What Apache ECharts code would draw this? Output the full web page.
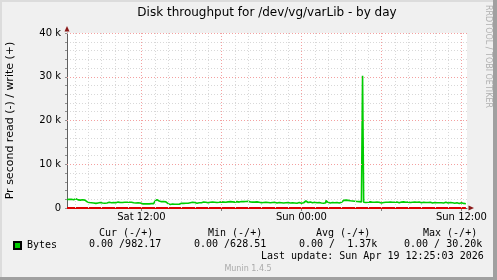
<!DOCTYPE html>
<html>
<head>
<meta charset="utf-8">
<script src="https://cdn.jsdelivr.net/npm/echarts@6/dist/echarts.min.js"></script>
<style>
html,body{margin:0;padding:0;background:#f0f0f0;}
#chart{width:497px;height:280px;}
</style>
</head>
<body>
<div id="chart"></div>
<script>
// ---- data (hours counted from Sat 00:00) ----
const startHour = 6 + 25 / 60;   // Sat 06:25
const endHour = 36 + 25 / 60;    // Sun 12:25
const xTickHours = [12, 24, 36];
const xTickLabels = ['Sat 12:00', 'Sun 00:00', 'Sun 12:00'];
const yTickValues = [0, 10000, 20000, 30000, 40000];
const yTickLabels = ['0', '10 k', '20 k', '30 k', '40 k'];

// write bytes per second, one value per 5-minute sample (12 per hour row)
const writeBytes = [
  1950, 2000, 1900, 1980, 2050, 1880, 1950, 2100, 1900, 1850, 1950, 1800,
  1850, 1900, 1750, 1800, 1600, 1450, 1300, 1250, 1150, 1200, 1100, 1150,
  1100, 1050, 1200, 1150, 1350, 1250, 1100, 1150, 1200, 1100, 1250, 1150,
  1200, 1300, 1250, 1200, 1350, 1250, 1300, 1200, 1250, 1350, 1300, 1250,
  1300, 1250, 1350, 1300, 1250, 1300, 1400, 1300, 1250, 1300, 1250, 1200,
  1200, 1150, 1250, 1200, 1100, 1150, 1000,  950,  900,  950, 1000,  950,
   900,  950,  900, 1000,  950, 1000, 1100, 1500, 1900, 1750, 1600, 1500,
  1450, 1400, 1500, 1350, 1400, 1300, 1000,  850,  800,  850,  900,  850,
   850, 628.51, 850, 900,  850,  950, 1100, 1000, 1050, 1150, 1100, 1150,
  1100, 1150, 1200, 1150, 1300, 1500, 1250, 1200, 1100, 1150, 1200, 1250,
  1200, 1300, 1350, 1250, 1300, 1400, 1200, 1350, 1300, 1250, 1350, 1300,
  1300, 1350, 1250, 1400, 1300, 1650, 1400, 1300, 1350, 1250, 1300, 1400,
  1400, 1350, 1450, 1300, 1400, 1500, 1350, 1300, 1450, 1400, 1350, 1450,
  1500, 1400, 1450, 1600, 1500, 1800, 1550, 1450, 1400, 1500, 1350, 1400,
  1350, 1300, 1400, 1250, 1300, 1350, 1200, 1300, 1250, 1350, 1300, 1250,
  1250, 1300, 1200, 1350, 1250, 1200, 1300, 1250, 1150, 1300, 1250, 1200,
  1200, 1250, 1150, 1300, 1200, 1100, 1250, 1200, 1150, 1250, 1200, 1150,
  1150, 1200, 1100, 1150, 1250, 1200, 1100, 1150, 1200, 1100, 1600, 1300,
  1250, 1300, 1350, 1250, 1200, 1350, 1300, 1250, 1200, 1300, 1250, 1200,
  1150, 1200, 1100, 1250, 1200, 1700, 1300, 1200, 1150, 1200, 1250, 1150,
  1200, 1150, 1250, 1200, 1150, 1200, 1300, 1250, 1750, 1950, 1800, 1700,
  1750, 1800, 1650, 1700, 1600, 1500, 1550, 1450, 1500, 1400, 1450, 1500,
  1400, 1450, 30200, 1300, 1250, 1350, 1300, 1200, 1400, 1250, 1300, 1350,
  1300, 1250, 1350, 1200, 1300, 1250, 1150, 1300, 1250, 1200, 1300, 1350,
  1300, 1400, 1350, 1250, 1300, 1400, 1300, 1250, 1350, 1300, 1200, 1300,
  1350, 1300, 1400, 1250, 1300, 1500, 1350, 1300, 1250, 1350, 1300, 1400,
  1350, 1400, 1300, 1250, 1350, 1300, 1200, 1250, 1300, 1200, 1250, 1300,
  1250, 1200, 1300, 1250, 1150, 1200, 1250, 1300, 1200, 1150, 1200, 1250,
  1200, 1250, 1150, 1200, 1300, 1200, 1150, 1200, 1250, 1150, 1200, 1150,
  1100, 1150, 1200, 1100, 1050, 1150, 1200, 1100, 1050, 1000, 982.17, 982.17
];
// read side is 0.00 for every sample (Cur/Min/Avg/Max all 0.00)
const readBytes = writeBytes.map(() => 0);

const statHeaders = ['Cur (-/+)', 'Min (-/+)', 'Avg (-/+)', 'Max (-/+)'];
const statValues = ['0.00 /982.17', '0.00 /628.51', '0.00 /  1.37k', '0.00 / 30.20k'];
const lastUpdate = 'Last update: Sun Apr 19 12:25:03 2026';

// ---- build ----
const sampleHours = writeBytes.map((_, i) => startHour + i * 5 / 60);
const writeData = writeBytes.map((v, i) => [sampleHours[i], v]);
const readData = readBytes.map((v, i) => [sampleHours[i], v]);

const minorX = [], majorX = [];
for (let h = Math.ceil(startHour); h <= endHour; h++) {
  (h % 6 === 0 ? majorX : minorX).push({ xAxis: h });
}
const majorY = [10000, 20000, 30000, 40000].map(v => ({ yAxis: v }));

const MONO = '10px "DejaVu Sans Mono"';
const SANS = '"DejaVu Sans"';

const chart = echarts.init(document.getElementById('chart'), null, { renderer: 'canvas' });

const headerX = [99, 208, 316, 423];
const valueX = [89, 194, 299, 404];
const graphics = [
  { type: 'rect', shape: { x: 0, y: 0, width: 497, height: 2 }, style: { fill: '#dcdcdc' }, silent: true },
  { type: 'rect', shape: { x: 0, y: 0, width: 2, height: 280 }, style: { fill: '#dcdcdc' }, silent: true },
  { type: 'rect', shape: { x: 493, y: 0, width: 4, height: 280 }, style: { fill: '#a0a0a0' }, silent: true },
  { type: 'rect', shape: { x: 0, y: 277, width: 497, height: 3 }, style: { fill: '#a0a0a0' }, silent: true },
  { type: 'text', x: 267, y: 13, style: { text: 'Disk throughput for /dev/vg/varLib - by day', font: '12px ' + SANS, fill: '#000', align: 'center', verticalAlign: 'middle' } },
  { type: 'text', x: 488, y: 5, rotation: -Math.PI / 2, style: { text: 'RRDTOOL / TOBI OETIKER', font: '8px ' + SANS, fill: '#b0b0b0', align: 'left', verticalAlign: 'middle' } },
  { type: 'polygon', shape: { points: [[67, 26], [64.5, 31.5], [69.5, 31.5]] }, style: { fill: '#8b1a1a' }, silent: true },
  { type: 'polygon', shape: { points: [[474, 208], [468.5, 205.5], [468.5, 210.5]] }, style: { fill: '#8b1a1a' }, silent: true },
  { type: 'text', x: 261, y: 256, style: { text: lastUpdate, font: MONO, fill: '#000', verticalAlign: 'middle' } },
  { type: 'text', x: 248, y: 269, style: { text: 'Munin 1.4.5', font: '8px ' + SANS, fill: '#aaaaaa', align: 'center', verticalAlign: 'middle' } }
];
statHeaders.forEach((t, i) => graphics.push({ type: 'text', x: headerX[i], y: 233, style: { text: t, font: MONO, fill: '#000', verticalAlign: 'middle' } }));
statValues.forEach((t, i) => graphics.push({ type: 'text', x: valueX[i], y: 244.5, style: { text: t, font: MONO, fill: '#000', verticalAlign: 'middle' } }));

const option = {
  animation: false,
  backgroundColor: '#f0f0f0',
  grid: {
    left: 67, right: 30, top: 33, bottom: 72, containLabel: false, outerBoundsMode: 'none',
    show: true, backgroundColor: '#ffffff', borderWidth: 0
  },
  legend: {
    data: ['Bytes'], left: 13, top: 240.5, padding: 0, icon: 'rect', itemWidth: 7, itemHeight: 7, itemGap: 6,
    textStyle: { fontFamily: 'DejaVu Sans Mono', fontSize: 10, color: '#000', padding: [0, 0, 0, 1] },
    selectedMode: false
  },
  xAxis: {
    type: 'value', min: startHour, max: endHour,
    axisLine: { show: true, lineStyle: { color: '#606060', width: 1 } },
    axisTick: { show: true, length: 3, customValues: [12, 18, 24, 30, 36], lineStyle: { color: '#808080' } },
    splitLine: { show: false },
    axisLabel: {
      customValues: xTickHours, margin: 4,
      fontFamily: 'DejaVu Sans', fontSize: 10, color: '#000',
      formatter: v => { const i = xTickHours.indexOf(Math.round(v)); return i >= 0 ? xTickLabels[i] : ''; }
    }
  },
  yAxis: {
    type: 'value', min: 0, max: 40000, interval: 2000,
    name: 'Pr second read (-) / write (+)', nameLocation: 'middle', nameRotate: 90, nameGap: 51,
    nameTextStyle: { fontFamily: 'DejaVu Sans', fontSize: 11, color: '#000' },
    axisLine: { show: true, lineStyle: { color: '#606060', width: 1 } },
    axisTick: { show: true, length: 2, lineStyle: { color: '#909090' } },
    splitLine: { show: true, lineStyle: { color: '#d8d8d8', type: [1, 2], width: 1 } },
    axisLabel: {
      margin: 6, fontFamily: 'DejaVu Sans', fontSize: 10, color: '#000',
      formatter: v => { const i = yTickValues.indexOf(v); return i >= 0 ? yTickLabels[i] : ''; }
    }
  },
  series: [
    {
      name: 'grid', type: 'line', data: [], z: 1, silent: true,
      markLine: {
        silent: true, symbol: 'none', label: { show: false }, animation: false,
        data: [
          ...minorX.map(d => Object.assign({ lineStyle: { color: '#d8d8d8', type: [1, 2], width: 1 } }, d)),
          ...majorX.map(d => Object.assign({ lineStyle: { color: '#f4a0a0', type: [1, 2], width: 1 } }, d)),
          ...majorY.map(d => Object.assign({ lineStyle: { color: '#f4a0a0', type: [1, 2], width: 1 } }, d))
        ]
      }
    },
    {
      name: 'Bytes', type: 'line', data: writeData, step: 'end', showSymbol: false, z: 3,
      lineStyle: { color: '#00cc00', width: 1.6 }, itemStyle: { color: '#00cc00', borderColor: '#000', borderWidth: 1 }
    },
    {
      name: 'read', type: 'line', data: readData, step: 'end', showSymbol: false, z: 4,
      lineStyle: { color: '#e00000', width: 2 }, itemStyle: { color: '#e00000' }
    }
  ],
  graphic: graphics
};
chart.setOption(option);
</script>
</body>
</html>
